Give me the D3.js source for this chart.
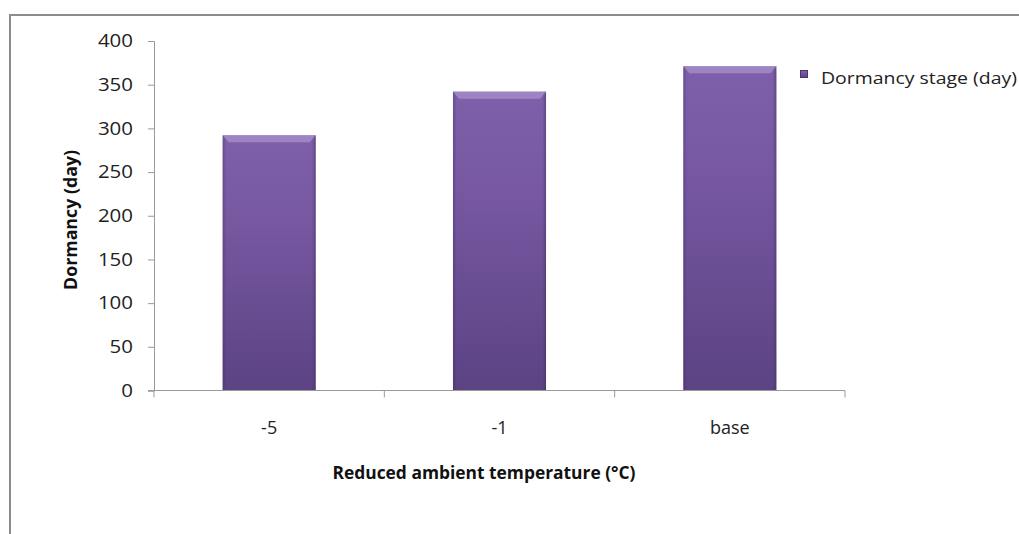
<!DOCTYPE html>
<html>
<head>
<meta charset="utf-8">
<script src="https://cdn.jsdelivr.net/npm/d3@7"></script>
<style>
  body { margin: 0; background: #fff; }
  svg { display: block; font-family: "Open Sans", "Noto Sans", sans-serif; }
</style>
</head>
<body>
<figure id="dormancy" style="margin:0"></figure>
<script>
const categories = ["-5", "-1", "base"];
const dormancyDays = [292, 342, 371];
const yTicks = [0, 50, 100, 150, 200, 250, 300, 350, 400];
const seriesName = "Dormancy stage (day)";

const width = 1019, height = 534;
const plotLeft = 154, plotRight = 845, plotTop = 41, plotBottom = 390.5;

const svg = d3.select("figure#dormancy")
  .append("svg")
  .attr("width", width)
  .attr("height", height);

const defs = svg.append("defs");
const grad = defs.append("linearGradient")
  .attr("id", "barFill")
  .attr("x1", 0).attr("y1", 0).attr("x2", 0).attr("y2", 1);
grad.append("stop").attr("offset", "0%").attr("stop-color", "#7e60aa");
grad.append("stop").attr("offset", "35%").attr("stop-color", "#7657a0");
grad.append("stop").attr("offset", "100%").attr("stop-color", "#5b4384");

const side = defs.append("linearGradient")
  .attr("id", "barSide")
  .attr("x1", 0).attr("y1", 0).attr("x2", 1).attr("y2", 0);
side.append("stop").attr("offset", "0%").attr("stop-color", "#3c2a5c").attr("stop-opacity", 0.35);
side.append("stop").attr("offset", "4%").attr("stop-color", "#3c2a5c").attr("stop-opacity", 0);
side.append("stop").attr("offset", "96%").attr("stop-color", "#3c2a5c").attr("stop-opacity", 0);
side.append("stop").attr("offset", "100%").attr("stop-color", "#3c2a5c").attr("stop-opacity", 0.45);

// outer frame
svg.append("rect")
  .attr("x", 10).attr("y", 15)
  .attr("width", 1100).attr("height", 600)
  .attr("fill", "none")
  .attr("stroke", "#8c8c8c")
  .attr("stroke-width", 2);

const x = d3.scaleBand()
  .domain(categories)
  .range([plotLeft, plotRight])
  .paddingInner(0.596)
  .paddingOuter(0.298);

const xCat = d3.scaleBand()
  .domain(categories)
  .range([plotLeft, plotRight]);

const y = d3.scaleLinear()
  .domain([0, 400])
  .range([plotBottom, plotTop]);

// y axis
const yAxis = svg.append("g")
  .attr("transform", `translate(${plotLeft},0)`)
  .attr("font-family", null)
  .call(d3.axisLeft(y).tickValues(yTicks).tickSize(6).tickPadding(15));
yAxis.attr("font-family", null);
yAxis.select(".domain").attr("stroke", "#9a9a9a");
yAxis.selectAll(".tick line").attr("stroke", "#9a9a9a");
yAxis.selectAll("text")
  .attr("font-size", 18)
  .attr("fill", "#222")
  .attr("textLength", d => String(d).length * 11.7)
  .attr("lengthAdjust", "spacingAndGlyphs");

// bars
const bars = svg.selectAll(".bar")
  .data(categories)
  .enter()
  .append("g")
  .attr("class", "bar");

bars.append("rect")
  .attr("x", d => x(d))
  .attr("y", (d, i) => y(dormancyDays[i]))
  .attr("width", x.bandwidth())
  .attr("height", (d, i) => plotBottom - y(dormancyDays[i]))
  .attr("fill", "url(#barFill)");

bars.append("rect")
  .attr("x", d => x(d))
  .attr("y", (d, i) => y(dormancyDays[i]))
  .attr("width", x.bandwidth())
  .attr("height", (d, i) => plotBottom - y(dormancyDays[i]))
  .attr("fill", "url(#barSide)");

// top bevel
bars.append("path")
  .attr("d", (d, i) => {
    const x0 = x(d), x1 = x(d) + x.bandwidth(), yt = y(dormancyDays[i]);
    return `M${x0},${yt}L${x1},${yt}L${x1 - 6},${yt + 7}L${x0 + 6},${yt + 7}Z`;
  })
  .attr("fill", "#a48ec8")
  .attr("opacity", 0.8);

// x axis
svg.append("line")
  .attr("x1", plotLeft - 6).attr("x2", plotRight)
  .attr("y1", plotBottom).attr("y2", plotBottom)
  .attr("stroke", "#9a9a9a");

const bounds = categories.map(d => xCat(d)).concat([plotRight]);
svg.selectAll(".xtick")
  .data(bounds)
  .enter()
  .append("line")
  .attr("x1", d => d).attr("x2", d => d)
  .attr("y1", plotBottom).attr("y2", plotBottom + 7)
  .attr("stroke", "#9a9a9a");

svg.selectAll(".xlabel")
  .data(categories)
  .enter()
  .append("text")
  .attr("x", d => xCat(d) + xCat.bandwidth() / 2)
  .attr("y", 434)
  .attr("text-anchor", "middle")
  .attr("font-size", 18)
  .attr("fill", "#222")
  .text(d => d);

// axis titles
svg.append("text")
  .attr("x", 484)
  .attr("y", 479)
  .attr("text-anchor", "middle")
  .attr("font-size", 18)
  .attr("font-weight", "bold")
  .attr("fill", "#111")
  .attr("textLength", 303)
  .attr("lengthAdjust", "spacingAndGlyphs")
  .text("Reduced ambient temperature (°C)");

svg.append("text")
  .attr("transform", "translate(77,220) rotate(-90)")
  .attr("text-anchor", "middle")
  .attr("font-size", 18)
  .attr("font-weight", "bold")
  .attr("fill", "#111")
  .attr("textLength", 140)
  .attr("lengthAdjust", "spacingAndGlyphs")
  .text("Dormancy (day)");

// legend
svg.append("rect")
  .attr("x", 800.5).attr("y", 70.5)
  .attr("width", 7).attr("height", 7)
  .attr("fill", "url(#barFill)")
  .attr("stroke", "#4a3570")
  .attr("stroke-width", 1);
svg.append("text")
  .attr("x", 821)
  .attr("y", 84)
  .attr("font-size", 17)
  .attr("fill", "#222")
  .attr("textLength", 196)
  .attr("lengthAdjust", "spacingAndGlyphs")
  .text(seriesName);
</script>
</body>
</html>
